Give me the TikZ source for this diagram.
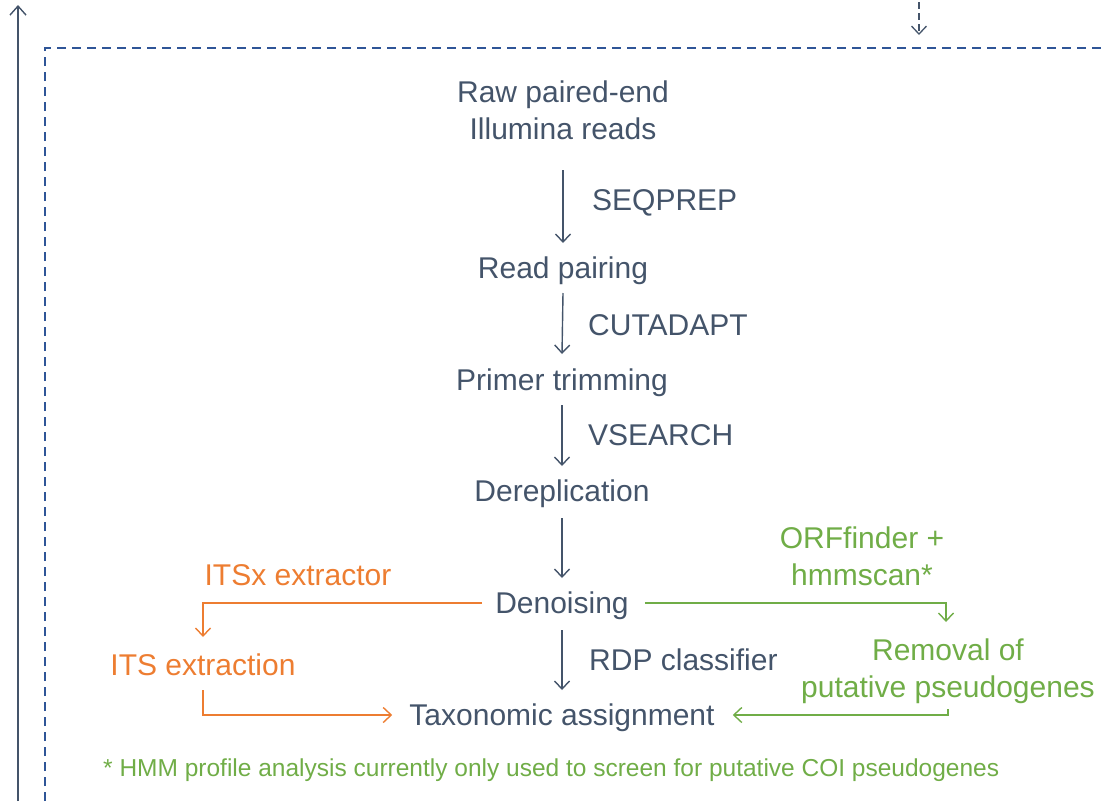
\documentclass[tikz,border=0pt]{standalone}
\usepackage{fontspec}
\setmainfont{Liberation Sans}
\usetikzlibrary{arrows.meta}
\definecolor{slate}{HTML}{44546A}
\definecolor{boxblue}{HTML}{2F5597}
\definecolor{orng}{HTML}{ED7D31}
\definecolor{grn}{HTML}{70AD47}
\tikzset{
  lbl/.style={inner sep=0pt, font=\fontsize{30}{37}\selectfont, align=center},
  stepnode/.style={lbl, anchor=base, text=slate},
  step label/.style={lbl, anchor=base west, text=slate},
  flow/.style={draw=slate, line width=1.4pt, -{Straight Barb[length=8pt,width=15pt,line width=1.4pt]}},
  orflow/.style={draw=orng, line width=1.4pt, -{Straight Barb[length=8pt,width=15pt,line width=1.4pt]}},
  grflow/.style={draw=grn, line width=1.4pt, -{Straight Barb[length=8pt,width=15pt,line width=1.4pt]}},
}
\begin{document}
\begin{tikzpicture}[x=1pt,y=-1pt]
\useasboundingbox (0,0) rectangle (1106,801);
% outer frame lines
\coordinate (lb) at (18,801);
\coordinate (lt) at (18,5);
\draw[slate, line width=1.4pt, -{Straight Barb[length=9pt,width=16pt,line width=1.4pt]}] (lb) -- (lt);
\coordinate (ba) at (45,801);
\coordinate (bb) at (45,48);
\coordinate (bc) at (1106,48);
\draw[boxblue, line width=2.2pt, dash pattern=on 9pt off 6pt] (ba) -- (bb) -- (bc);
\coordinate (da) at (919,2);
\coordinate (db) at (919,35);
\draw[slate, line width=1.3pt, dash pattern=on 7pt off 4pt, -{Straight Barb[length=8pt,width=15pt,line width=1.3pt]}] (da) -- (db);

% main nodes
\node[lbl, text=slate] (raw) at (563,110) {Raw paired-end\\Illumina reads};
\node[stepnode] (pair) at (563,278) {Read pairing};
\node[stepnode] (primer) at (562,390) {Primer trimming};
\node[stepnode] (derep) at (562,501) {Dereplication};
\node[stepnode] (denoise) at (562,613) {Denoising};
\node[stepnode] (tax) at (562,725) {Taxonomic assignment};

\node[step label] (seqprep) at (592,210.5) {SEQPREP};
\node[step label] (cutadapt) at (588,335) {CUTADAPT};
\node[step label] (vsearch) at (588,445) {VSEARCH};
\node[step label] (rdp) at (589,670) {RDP classifier};

\draw[flow] ([yshift=-60pt]raw.center) -- ([yshift=35pt]pair.base);
\draw[flow] ([yshift=-15pt]pair.base) -- ([yshift=36pt]primer.base);
\draw[flow] ([yshift=-15pt]primer.base) -- ([yshift=35pt]derep.base);
\draw[flow] ([yshift=-17pt]derep.base) -- ([yshift=35pt]denoise.base);
\draw[flow] ([yshift=-17pt]denoise.base) -- ([yshift=35pt]tax.base);

% orange branch
\node[lbl, text=orng] (itsx) at (298,575) {ITSx extractor};
\node[lbl, text=orng] (its) at (203,665) {ITS extraction};
\draw[orflow] ([xshift=-13pt,yshift=10pt]denoise.base west) -| ([yshift=28pt]its.center);
\draw[orflow] ([yshift=-25pt]its.center) |- ([xshift=-17pt,yshift=10pt]tax.base west);

% green branch
\node[lbl, text=grn] (orf) at (862,556) {ORFfinder +\\hmmscan*};
\node[lbl, text=grn] (rem) at (948,671) {Removal of\\putative pseudogenes};
\draw[grflow] ([xshift=16pt,yshift=10pt]denoise.base east) -| ([xshift=-2pt,yshift=49pt]rem.center);
\draw[grflow] ([yshift=-38pt]rem.center) |- ([xshift=18pt,yshift=10pt]tax.base east);

\node[inner sep=0pt, anchor=west, text=grn, font=\fontsize{24.5}{30}\selectfont] (note) at (103,770) {* HMM profile analysis currently only used to screen for putative COI pseudogenes};
\end{tikzpicture}
\end{document}
